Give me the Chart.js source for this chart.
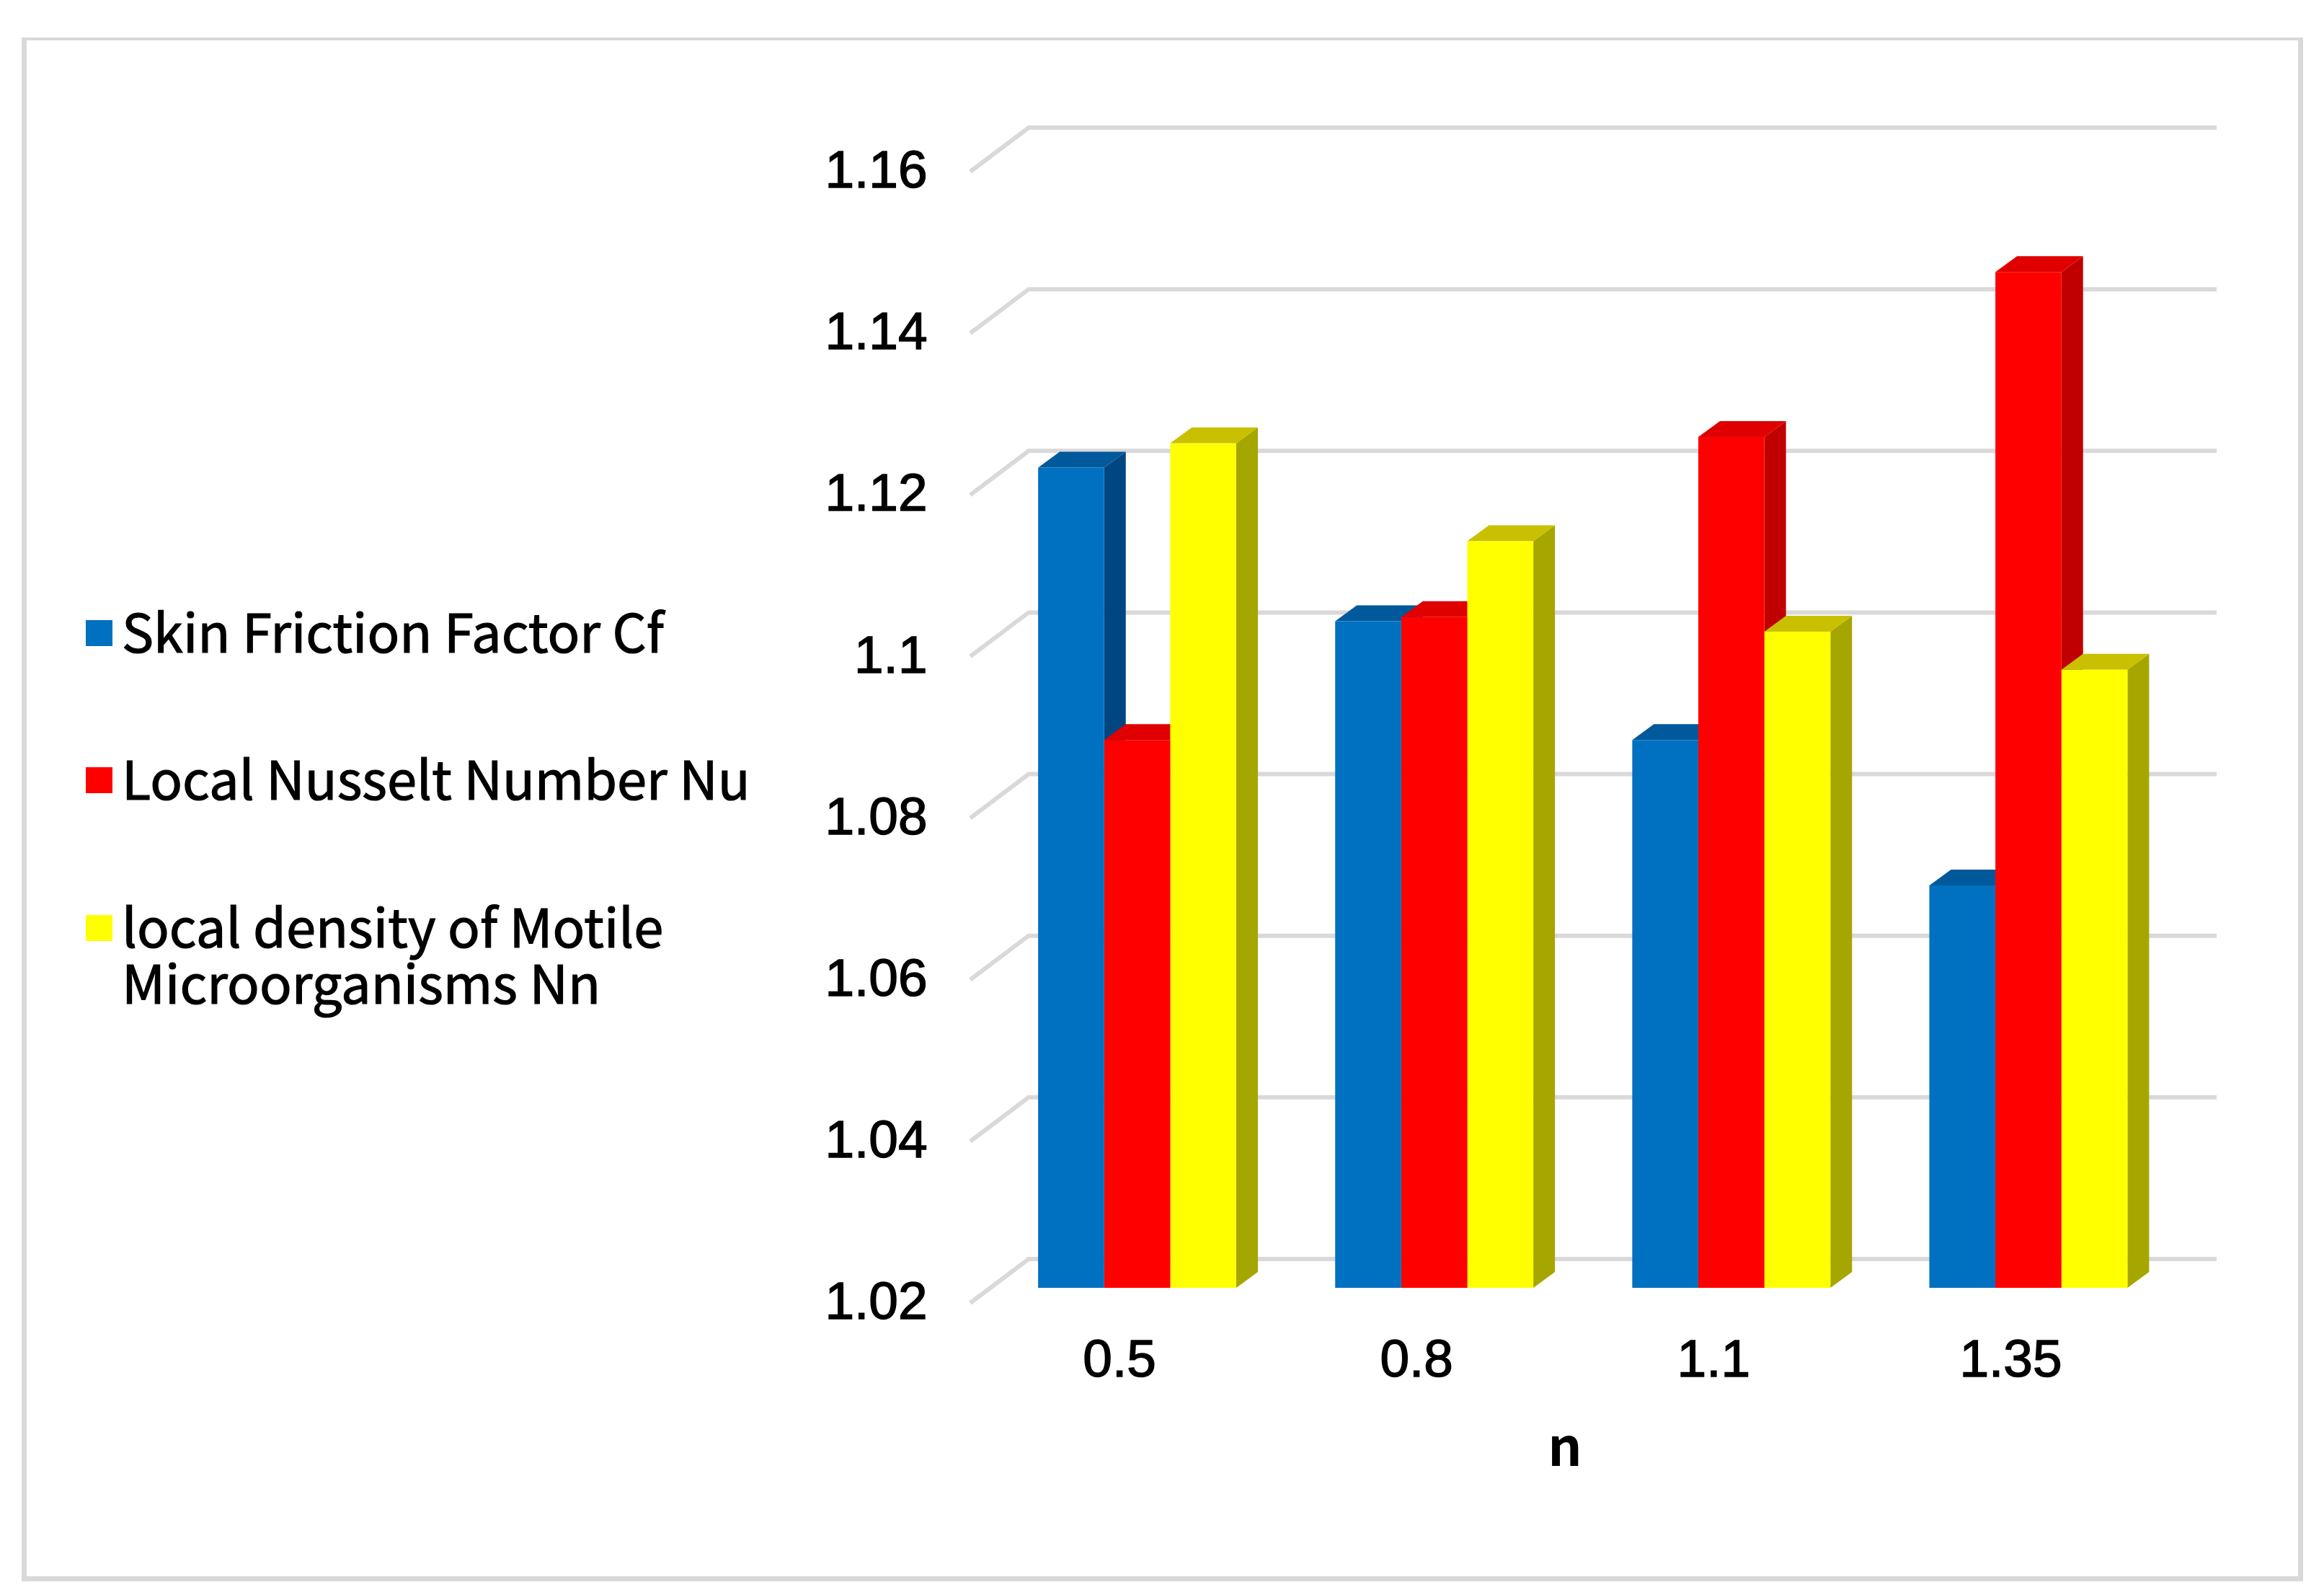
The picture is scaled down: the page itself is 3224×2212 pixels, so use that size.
<!DOCTYPE html>
<html>
<head>
<meta charset="utf-8">
<title>Skin friction, Nusselt number and motile density against n</title>
<script src="https://cdn.jsdelivr.net/npm/chart.js@4/dist/chart.umd.min.js"></script>
<style>
    html, body { margin: 0; padding: 0; background: #fff; }
    #page { position: relative; width: 3224px; height: 2212px; overflow: hidden; font-family: "Noto Sans CJK SC", sans-serif; color: #000; }
    #frame { position: absolute; left: 30px; top: 52px; width: 3151px; height: 2130px; border: 7px solid #d9d9d9; border-top-width: 4px; }
    canvas { position: absolute; left: 0; top: 0; }
    .swatch { position: absolute; left: 119px; width: 37px; height: 36px; }
    .legend-text { position: absolute; left: 169px; font-size: 74px; line-height: 78px; white-space: nowrap; -webkit-text-stroke: 1.2px #000; }
    #x-title { position: absolute; left: 2121px; top: 1955px; width: 100px; text-align: center; font-size: 74px; line-height: 92px; font-weight: bold; }
</style>
</head>
<body>
<div id="page">
    <div id="frame"></div>
    <canvas id="chart" width="3224" height="2212"></canvas>
    <div id="legend"></div>
    <div id="x-title"></div>
</div>
<script>
// Values
const categories = ['0.5', '0.8', '1.1', '1.35'];
const yTickLabels = ['1.02', '1.04', '1.06', '1.08', '1.1', '1.12', '1.14', '1.16'];
const xAxisTitle = 'n';

const skinFriction = [1.1215, 1.1025, 1.0878, 1.0698];
const nusselt = [1.0878, 1.103, 1.1253, 1.1457];
const motileDensity = [1.1245, 1.1124, 1.1012, 1.0965];

const seriesNames = [
    ['Skin Friction Factor Cf'],
    ['Local Nusselt Number Nu'],
    ['local density of Motile', 'Microorganisms Nn']
];

// front, top face, side face
const blueShades = ['#0070c0', '#00599b', '#004681'];
const redShades = ['#ff0000', '#e00000', '#c00000'];
const yellowShades = ['#ffff00', '#c8c000', '#a6a600'];
const shades = [blueShades, redShades, yellowShades];

const TICK_FONT = '"Liberation Sans", sans-serif';

// Depth of the fake 3D box, in pixels
const BAR_DX = 30;
const BAR_DY = 22;

function fillFace(ctx, color, pts) {
    ctx.fillStyle = color;
    ctx.beginPath();
    ctx.moveTo(pts[0][0], pts[0][1]);
    for (let i = 1; i < pts.length; i++) ctx.lineTo(pts[i][0], pts[i][1]);
    ctx.closePath();
    ctx.fill();
}

// Grid runs along the back wall, with a diagonal on the left side wall
const wallPlugin = {
    id: 'wall',
    beforeDatasetsDraw(chart) {
        const { ctx } = chart;
        const xScale = chart.scales.x;
        const yScale = chart.scales.y;

        ctx.save();
        ctx.strokeStyle = '#d9d9d9';
        ctx.lineWidth = 6;
        ctx.lineJoin = 'miter';
        yScale.ticks.forEach((tick) => {
            const y = yScale.getPixelForValue(tick.value);
            ctx.beginPath();
            ctx.moveTo(xScale.left - 25.5, y + 21);
            ctx.lineTo(xScale.left + 55.5, y - 40);
            ctx.lineTo(xScale.right + 55, y - 40);
            ctx.stroke();
        });

        // Top and side faces of every bar; the fronts are the real bars, drawn after this
        chart.data.datasets.forEach((dataset, d) => {
            chart.getDatasetMeta(d).data.forEach((bar) => {
                const left = bar.x - bar.width / 2;
                const right = bar.x + bar.width / 2;
                const floor = yScale.bottom;
                fillFace(ctx, shades[d][2], [
                    [right, bar.y], [right + BAR_DX, bar.y - BAR_DY],
                    [right + BAR_DX, floor - BAR_DY], [right, floor]
                ]);
                fillFace(ctx, shades[d][1], [
                    [left, bar.y], [left + BAR_DX, bar.y - BAR_DY],
                    [right + BAR_DX, bar.y - BAR_DY], [right, bar.y]
                ]);
            });
        });
        ctx.restore();
    }
};

new Chart(document.getElementById('chart'), {
    type: 'bar',
    data: {
        labels: categories,
        datasets: [
            { label: seriesNames[0].join(' '), data: skinFriction, backgroundColor: blueShades[0] },
            { label: seriesNames[1].join(' '), data: nusselt, backgroundColor: redShades[0] },
            { label: seriesNames[2].join(' '), data: motileDensity, backgroundColor: yellowShades[0] }
        ]
    },
    options: {
        responsive: false,
        animation: false,
        devicePixelRatio: 1,
        layout: { padding: { left: 0, top: 217, right: 204, bottom: 226 } },
        datasets: { bar: { barPercentage: 1, categoryPercentage: 0.667, borderWidth: 0 } },
        plugins: {
            legend: { display: false }, // HTML legend below
            tooltip: { enabled: false }
        },
        scales: {
            x: {
                grid: { display: false, drawTicks: false },
                border: { display: false },
                afterFit: (axis) => { axis.height = 200; },
                ticks: {
                    color: '#000',
                    textStrokeColor: '#000',
                    textStrokeWidth: 1.5,
                    padding: 59,
                    labelOffset: -24.5,
                    maxRotation: 0,
                    autoSkip: false,
                    font: { family: TICK_FONT, size: 73 }
                }
            },
            y: {
                min: 1.02,
                max: 1.16,
                grid: { display: false, drawTicks: false },
                border: { display: false },
                afterFit: (axis) => { axis.width = 1371.5; },
                ticks: {
                    stepSize: 0.02,
                    color: '#000',
                    textStrokeColor: '#000',
                    textStrokeWidth: 1.5,
                    padding: 85,
                    labelOffset: 23,
                    callback: (value, index) => yTickLabels[index],
                    font: { family: TICK_FONT, size: 73 }
                }
            }
        }
    },
    plugins: [wallPlugin]
});

// Legend swatches and text
const legendBox = document.getElementById('legend');
const legendSwatchTops = [860, 1064, 1269];
seriesNames.forEach((lines, i) => {
    const swatch = document.createElement('div');
    swatch.className = 'swatch';
    swatch.style.top = legendSwatchTops[i] + 'px';
    swatch.style.background = shades[i][0];
    legendBox.appendChild(swatch);

    lines.forEach((line, k) => {
        const text = document.createElement('div');
        text.className = 'legend-text';
        text.style.top = (legendSwatchTops[i] - 26 + k * 78) + 'px';
        text.textContent = line;
        legendBox.appendChild(text);
    });
});

document.getElementById('x-title').textContent = xAxisTitle;
</script>
</body>
</html>
